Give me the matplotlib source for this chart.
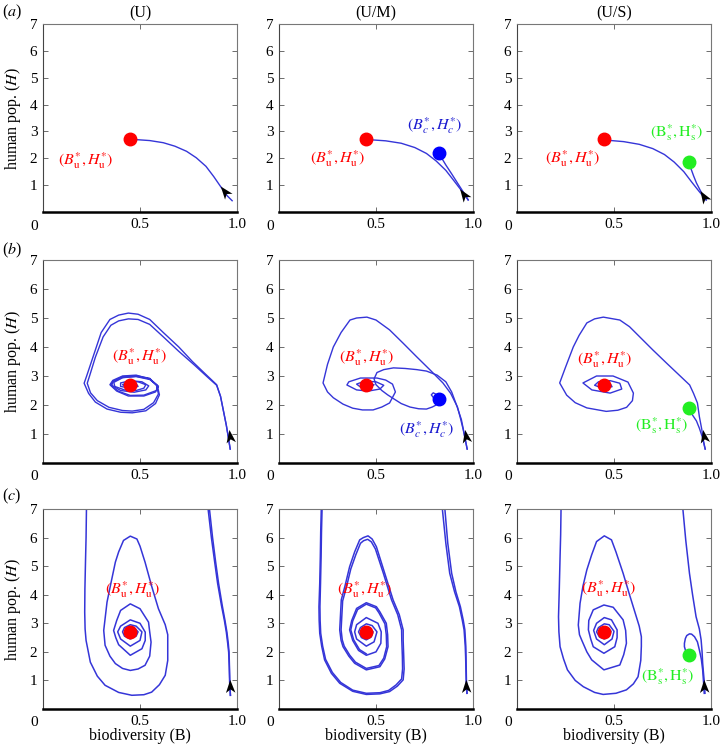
import matplotlib

matplotlib.use("Agg")

import matplotlib.pyplot as plt
import numpy as np
from matplotlib.markers import MarkerStyle
from matplotlib.path import Path
from matplotlib.transforms import Affine2D

plt.rcParams["font.family"] = ["Liberation Serif", "DejaVu Serif"]
plt.rcParams["mathtext.fontset"] = "stix"

col_titles = ["(U)", "(U/M)", "(U/S)"]
row_letters = ["a", "b", "c"]
x_ticks = [0.5, 1.0]
x_tick_labels = ["0.5", "1.0"]
y_ticks = [1, 2, 3, 4, 5, 6, 7]

# equilibria (B, H)
eq_u = (0.45, 2.70)
eq_c = (0.825, 2.19)
eq_s = (0.885, 1.88)

# ---- row (a) trajectories ----
a_u_path = [(0.975, 0.42), (0.95, 0.60), (0.92, 0.90), (0.88, 1.32), (0.84, 1.70), (0.79, 2.02),
             (0.74, 2.26), (0.68, 2.45), (0.62, 2.58), (0.55, 2.66), (0.47, 2.70)]
a_m_path_u = [(0.975, 0.45), (0.96, 0.60), (0.935, 0.85), (0.90, 1.18), (0.86, 1.55), (0.81, 1.90),
              (0.76, 2.18), (0.70, 2.40), (0.63, 2.56), (0.55, 2.65), (0.47, 2.69)]
a_m_path_c = [(0.975, 0.45), (0.965, 0.58), (0.945, 0.80), (0.92, 1.08), (0.89, 1.42), (0.86, 1.75),
              (0.835, 2.05)]
a_s_path_u = [(0.975, 0.45), (0.96, 0.58), (0.935, 0.80), (0.90, 1.12), (0.86, 1.50), (0.81, 1.86),
              (0.76, 2.14), (0.70, 2.36), (0.63, 2.52), (0.55, 2.62), (0.47, 2.67)]
a_s_path_s = [(0.975, 0.45), (0.96, 0.60), (0.945, 0.80), (0.925, 1.08), (0.91, 1.35), (0.895, 1.65),
              (0.887, 1.80)]

# ---- row (b) trajectories ----
b_u_path1 = [(0.965, 0.48), (0.955, 0.90), (0.945, 1.30), (0.93, 1.80), (0.915, 2.30), (0.895, 2.70),
             (0.84, 3.05), (0.77, 3.50), (0.70, 4.00), (0.62, 4.50), (0.55, 4.95), (0.49, 5.13),
             (0.44, 5.17), (0.39, 5.10), (0.345, 4.95), (0.30, 4.50), (0.26, 3.70), (0.225, 3.00),
             (0.212, 2.75), (0.235, 2.40), (0.27, 2.10), (0.33, 1.86), (0.40, 1.75), (0.46, 1.73),
             (0.53, 1.80), (0.58, 2.05), (0.60, 2.35), (0.59, 2.65), (0.55, 2.90), (0.48, 3.03),
             (0.41, 3.00), (0.36, 2.85), (0.345, 2.70), (0.38, 2.48), (0.44, 2.31), (0.52, 2.31),
             (0.58, 2.45), (0.595, 2.65), (0.55, 2.88), (0.48, 2.98), (0.41, 2.95), (0.36, 2.80),
             (0.355, 2.68), (0.40, 2.50), (0.47, 2.44), (0.53, 2.52), (0.545, 2.66), (0.51, 2.80),
             (0.45, 2.84), (0.40, 2.76), (0.40, 2.64), (0.45, 2.58), (0.49, 2.64), (0.48, 2.74),
             (0.45, 2.72)]
b_u_path2 = [(0.965, 0.48), (0.955, 0.90), (0.945, 1.30), (0.93, 1.80), (0.915, 2.30), (0.895, 2.68),
             (0.85, 2.95), (0.78, 3.38), (0.70, 3.85), (0.62, 4.35), (0.55, 4.78), (0.49, 4.95),
             (0.44, 4.97), (0.39, 4.90), (0.35, 4.75), (0.31, 4.35), (0.27, 3.65), (0.24, 3.00),
             (0.228, 2.75), (0.245, 2.42), (0.28, 2.15), (0.34, 1.92), (0.41, 1.81), (0.46, 1.79),
             (0.52, 1.85), (0.57, 2.08), (0.595, 2.38), (0.585, 2.68), (0.55, 2.92), (0.48, 3.01),
             (0.41, 2.98), (0.36, 2.82), (0.35, 2.68), (0.39, 2.47), (0.45, 2.33), (0.52, 2.34),
             (0.585, 2.50), (0.59, 2.68), (0.55, 2.90), (0.48, 2.99), (0.41, 2.94), (0.365, 2.78),
             (0.37, 2.64), (0.42, 2.52), (0.48, 2.50), (0.52, 2.58), (0.53, 2.70), (0.49, 2.80),
             (0.44, 2.80), (0.41, 2.70), (0.43, 2.62), (0.47, 2.64), (0.46, 2.72)]
b_m_path_u = [(0.97, 0.48), (0.96, 0.80), (0.95, 1.14), (0.935, 1.55), (0.92, 1.93), (0.885, 2.40),
              (0.845, 2.76), (0.78, 3.20), (0.71, 3.66), (0.64, 4.13), (0.57, 4.59), (0.50, 4.93),
              (0.453, 5.03), (0.40, 5.00), (0.366, 4.93), (0.32, 4.50), (0.28, 4.00), (0.25, 3.40),
              (0.227, 2.76), (0.25, 2.45), (0.28, 2.25), (0.33, 2.03), (0.38, 1.89), (0.43, 1.83),
              (0.485, 1.83), (0.53, 1.93), (0.57, 2.07), (0.60, 2.45), (0.585, 2.72), (0.55, 2.86),
              (0.505, 2.93), (0.42, 2.93), (0.36, 2.80), (0.35, 2.69), (0.40, 2.52), (0.46, 2.48),
              (0.52, 2.55), (0.54, 2.68), (0.50, 2.80), (0.44, 2.82), (0.40, 2.72), (0.42, 2.62),
              (0.47, 2.60), (0.49, 2.70), (0.45, 2.74), (0.44, 2.70)]
b_m_path_c = [(0.97, 0.48), (0.955, 1.00), (0.94, 1.50), (0.915, 2.00), (0.89, 2.45), (0.86, 2.80),
              (0.815, 3.03), (0.76, 3.17), (0.71, 3.22), (0.65, 3.26), (0.59, 3.28), (0.54, 3.22),
              (0.505, 3.12), (0.49, 2.90), (0.50, 2.70), (0.53, 2.50), (0.56, 2.35), (0.59, 2.22),
              (0.63, 2.05), (0.675, 1.93), (0.72, 1.87), (0.76, 1.86), (0.79, 1.93), (0.81, 2.00),
              (0.825, 2.17), (0.815, 2.35), (0.795, 2.42), (0.785, 2.35), (0.80, 2.22), (0.825, 2.19)]
b_s_path_u = [(0.97, 0.48), (0.96, 0.80), (0.953, 1.14), (0.94, 1.60), (0.93, 2.07), (0.91, 2.40),
              (0.89, 2.69), (0.83, 3.07), (0.77, 3.45), (0.70, 3.90), (0.634, 4.34), (0.58, 4.70),
              (0.53, 4.93), (0.445, 5.03), (0.40, 4.97), (0.36, 4.83), (0.32, 4.40), (0.29, 4.00),
              (0.25, 3.30), (0.22, 2.76), (0.256, 2.34), (0.30, 2.08), (0.36, 1.90), (0.46, 1.78),
              (0.52, 1.82), (0.565, 1.92), (0.595, 2.15), (0.60, 2.41), (0.572, 2.79), (0.495, 3.00),
              (0.41, 3.00), (0.34, 2.76), (0.386, 2.52), (0.48, 2.41), (0.54, 2.55), (0.53, 2.75),
              (0.48, 2.84), (0.42, 2.80), (0.40, 2.68), (0.44, 2.58), (0.49, 2.63), (0.48, 2.74),
              (0.45, 2.72)]
b_s_path_s = [(0.97, 0.48), (0.955, 0.90), (0.94, 1.20), (0.925, 1.45), (0.905, 1.65), (0.887, 1.86)]

# ---- row (c) trajectories ----
c_u_left = [(0.224, 7.0), (0.222, 6.0), (0.219, 5.14), (0.216, 4.2), (0.215, 3.39), (0.217, 2.8),
            (0.222, 2.4), (0.244, 1.64), (0.28, 1.15), (0.32, 0.83), (0.39, 0.58), (0.458, 0.48),
            (0.52, 0.50), (0.56, 0.59), (0.60, 0.85), (0.63, 1.18), (0.643, 1.70), (0.643, 2.23),
            (0.643, 2.60), (0.63, 2.95), (0.595, 3.51), (0.56, 4.30), (0.526, 5.14), (0.50, 5.70),
            (0.484, 5.95), (0.45, 6.05), (0.415, 5.90), (0.39, 5.50), (0.373, 5.14), (0.35, 4.40),
            (0.33, 3.74), (0.313, 2.75), (0.32, 2.23), (0.345, 1.85), (0.373, 1.59), (0.41, 1.42),
            (0.45, 1.35), (0.49, 1.40), (0.526, 1.53), (0.55, 1.85), (0.557, 2.34), (0.55, 2.70),
            (0.544, 3.04), (0.50, 3.51), (0.45, 3.68), (0.40, 3.45), (0.38, 3.10), (0.364, 2.75),
            (0.375, 2.50), (0.39, 2.25), (0.45, 1.88), (0.51, 2.11), (0.527, 2.40), (0.527, 2.69),
            (0.50, 3.00), (0.45, 3.12), (0.40, 2.90), (0.385, 2.70), (0.40, 2.45), (0.45, 2.20),
            (0.50, 2.40), (0.51, 2.70), (0.48, 2.90), (0.45, 2.95), (0.42, 2.85), (0.41, 2.70),
            (0.42, 2.55), (0.45, 2.45), (0.48, 2.55), (0.49, 2.70), (0.47, 2.85), (0.45, 2.88)]
c_u_right1 = [(0.851, 7.0), (0.868, 6.0), (0.885, 5.14), (0.90, 4.40), (0.92, 3.62), (0.935, 3.10),
              (0.945, 2.69), (0.952, 2.30), (0.957, 1.99), (0.960, 1.50), (0.962, 0.94), (0.966, 0.48)]
c_u_right2 = [(0.858, 7.0), (0.874, 6.0), (0.890, 5.14), (0.905, 4.40), (0.924, 3.62), (0.938, 3.10),
              (0.948, 2.69), (0.955, 2.30), (0.959, 1.99), (0.961, 1.50), (0.963, 0.94), (0.966, 0.48)]
c_m_left1 = [(0.218, 7.0), (0.215, 6.2), (0.213, 5.33), (0.21, 4.4), (0.206, 3.58), (0.207, 3.1),
             (0.21, 2.65), (0.22, 2.2), (0.235, 1.72), (0.27, 1.25), (0.313, 0.9), (0.38, 0.62),
             (0.45, 0.51), (0.52, 0.53), (0.57, 0.61), (0.61, 0.80), (0.64, 1.02), (0.645, 1.40),
             (0.643, 1.83), (0.64, 2.40), (0.64, 2.77), (0.62, 3.30), (0.588, 3.82), (0.545, 4.75),
             (0.502, 5.68), (0.48, 5.95), (0.459, 6.06), (0.435, 6.00), (0.416, 5.92), (0.39, 5.50),
             (0.364, 4.98), (0.34, 4.30), (0.321, 3.82), (0.313, 2.77), (0.32, 2.40), (0.33, 2.18),
             (0.36, 1.85), (0.39, 1.60), (0.45, 1.37), (0.52, 1.48), (0.545, 1.75), (0.562, 2.18),
             (0.56, 2.60), (0.553, 3.00), (0.52, 3.40), (0.502, 3.58), (0.45, 3.72), (0.40, 3.52),
             (0.375, 3.10), (0.364, 2.77), (0.38, 2.40), (0.41, 2.05), (0.45, 1.88), (0.50, 2.00),
             (0.525, 2.30), (0.527, 2.70), (0.51, 3.00), (0.45, 3.20), (0.40, 2.95), (0.39, 2.70),
             (0.40, 2.45), (0.45, 2.20), (0.49, 2.35), (0.505, 2.70), (0.48, 2.92), (0.45, 2.98),
             (0.42, 2.85), (0.41, 2.70), (0.425, 2.50), (0.45, 2.42), (0.475, 2.52), (0.485, 2.70),
             (0.465, 2.85), (0.45, 2.88)]
c_m_left2 = [(0.222, 7.0), (0.219, 6.2), (0.217, 5.33), (0.214, 4.4), (0.211, 3.58), (0.212, 3.1),
             (0.215, 2.65), (0.225, 2.2), (0.24, 1.74), (0.275, 1.28), (0.318, 0.93), (0.38, 0.66),
             (0.45, 0.55), (0.52, 0.57), (0.565, 0.65), (0.603, 0.84), (0.632, 1.05), (0.637, 1.40),
             (0.636, 1.83), (0.633, 2.40), (0.632, 2.77), (0.612, 3.30), (0.58, 3.82), (0.538, 4.75),
             (0.497, 5.60), (0.476, 5.85), (0.457, 5.94), (0.436, 5.89), (0.42, 5.80), (0.396, 5.40),
             (0.37, 4.90), (0.347, 4.25), (0.328, 3.78), (0.32, 2.77), (0.326, 2.42), (0.336, 2.20),
             (0.365, 1.88), (0.394, 1.64), (0.45, 1.42), (0.515, 1.52), (0.54, 1.78), (0.555, 2.18),
             (0.553, 2.60), (0.546, 2.98), (0.515, 3.37), (0.498, 3.54), (0.45, 3.67), (0.405, 3.48),
             (0.38, 3.08), (0.37, 2.77), (0.385, 2.42), (0.415, 2.08), (0.45, 1.93)]
c_m_right1 = [(0.842, 7.0), (0.86, 5.8), (0.88, 4.75), (0.905, 4.1), (0.93, 3.58), (0.945, 3.1),
              (0.954, 2.77), (0.96, 2.2), (0.962, 1.83), (0.965, 1.02), (0.969, 0.55)]
c_m_right2 = [(0.855, 7.0), (0.87, 5.8), (0.89, 4.75), (0.912, 4.1), (0.935, 3.58), (0.95, 3.1),
              (0.958, 2.77), (0.963, 2.2), (0.964, 1.83), (0.966, 1.02), (0.969, 0.55)]
c_s_left = [(0.227, 7.0), (0.225, 6.1), (0.222, 5.33), (0.218, 4.2), (0.214, 3.23), (0.216, 2.7),
            (0.222, 2.18), (0.24, 1.75), (0.26, 1.37), (0.30, 1.00), (0.342, 0.78), (0.40, 0.58),
            (0.444, 0.51), (0.51, 0.55), (0.564, 0.67), (0.60, 0.88), (0.624, 1.13), (0.638, 1.70),
            (0.641, 2.20), (0.641, 2.53), (0.63, 2.90), (0.615, 3.23), (0.58, 4.00), (0.547, 4.75),
            (0.51, 5.50), (0.487, 5.92), (0.45, 6.06), (0.41, 5.86), (0.385, 5.40), (0.36, 4.87),
            (0.34, 4.30), (0.325, 3.70), (0.316, 2.94), (0.322, 2.60), (0.333, 2.42), (0.36, 2.00),
            (0.385, 1.72), (0.448, 1.37), (0.53, 1.54), (0.55, 1.90), (0.564, 2.30), (0.56, 2.75),
            (0.547, 3.12), (0.496, 3.56), (0.448, 3.64), (0.393, 3.47), (0.37, 3.10), (0.368, 2.77),
            (0.38, 2.45), (0.393, 2.18), (0.448, 1.95), (0.504, 2.18), (0.516, 2.50), (0.516, 2.77),
            (0.487, 3.12), (0.45, 3.20), (0.41, 3.00), (0.395, 2.75), (0.41, 2.45), (0.45, 2.25),
            (0.49, 2.45), (0.50, 2.72), (0.475, 2.95), (0.45, 2.98), (0.42, 2.85), (0.41, 2.70),
            (0.425, 2.52), (0.45, 2.45), (0.475, 2.55), (0.485, 2.72), (0.465, 2.85), (0.45, 2.86)]
c_s_right = [(0.855, 7.0), (0.87, 5.9), (0.889, 4.75), (0.905, 4.0), (0.923, 3.23), (0.94, 2.80),
             (0.949, 2.42), (0.954, 2.00), (0.957, 1.60), (0.962, 1.20), (0.966, 0.90), (0.969, 0.55)]
c_s_green = [(0.965, 0.55), (0.962, 0.90), (0.957, 1.37), (0.95, 1.75), (0.94, 2.07), (0.93, 2.35),
             (0.915, 2.53), (0.90, 2.62), (0.889, 2.63), (0.875, 2.57), (0.868, 2.47), (0.863, 2.30),
             (0.863, 2.18), (0.87, 2.02), (0.88, 1.91)]

panel_paths = [
    [[a_u_path], [a_m_path_u, a_m_path_c], [a_s_path_u, a_s_path_s]],
    [[b_u_path1, b_u_path2], [b_m_path_u, b_m_path_c], [b_s_path_u, b_s_path_s]],
    [[c_u_left, c_u_right1, c_u_right2], [c_m_left1, c_m_left2, c_m_right1, c_m_right2],
     [c_s_left, c_s_right, c_s_green]],
]

# arrowhead position (B, H) and heading in degrees per panel
arrow_pos = [[(0.94, 0.76), (0.955, 0.62), (0.962, 0.56)],
             [(0.962, 0.88), (0.962, 0.88), (0.962, 0.88)],
             [(0.962, 0.78), (0.966, 0.78), (0.966, 0.78)]]
arrow_angle = [[128, 125, 122], [98, 100, 100], [92, 92, 92]]

# labels: (B, H) of text centre
u_label_pos = [[(0.22, 1.93), (0.30, 2.00), (0.286, 1.99)],
               [(0.50, 3.67), (0.45, 3.62), (0.45, 3.58)],
               [(0.46, 4.17), (0.44, 4.19), (0.47, 4.22)]]
c_label_pos = [(0.80, 3.21), (0.76, 1.15)]
s_label_pos = [(0.825, 2.95), (0.745, 1.29), (0.778, 1.13)]

u_label = r"$(B^{*}_{\mathrm{u}}, H^{*}_{\mathrm{u}})$"
c_label = r"$(B^{*}_{c}, H^{*}_{c})$"
s_label = r"$(\mathrm{B}^{*}_{\mathrm{s}}, \mathrm{H}^{*}_{\mathrm{s}})$"

RED = "#ff0000"
BLUE_DOT = "#0000ff"
GREEN = "#22ee22"
LINE = "#3535d8"

fig = plt.figure(figsize=(7.21, 7.44), dpi=100)
W, H = 721.0, 744.0
col_left = [43, 279, 517]
col_width = 194
row_span = [(24, 212), (260, 463), (509, 709)]

head = Path([(0, 1.0), (-0.62, -0.7), (0, -0.25), (0.62, -0.7), (0, 1.0)],
            [Path.MOVETO, Path.LINETO, Path.LINETO, Path.LINETO, Path.CLOSEPOLY])

for r in range(3):
    top, bot = row_span[r]
    for c in range(3):
        ax = fig.add_axes([col_left[c] / W, 1 - bot / H, col_width / W, (bot - top) / H])
        lw = 1.0 if r < 2 else 1.1
        for path in panel_paths[r][c]:
            pts = np.array(path)
            ax.plot(pts[:, 0], pts[:, 1], color=LINE, lw=lw, solid_joinstyle="round", zorder=2)

        ax.plot(*eq_u, "o", color=RED, ms=9, zorder=4)
        lx, ly = u_label_pos[r][c]
        ax.text(lx, ly, u_label, color=RED, fontsize=11.5, ha="center", va="center", zorder=5)
        if c == 1 and r < 2:
            ax.plot(*eq_c, "o", color=BLUE_DOT, ms=9, zorder=4)
            ax.text(*c_label_pos[r], c_label, color="#1a1ad0", fontsize=11.5, ha="center",
                    va="center", zorder=5)
        if c == 2:
            ax.plot(*eq_s, "o", color=GREEN, ms=9, zorder=4)
            ax.text(*s_label_pos[r], s_label, color=GREEN, fontsize=11.5, ha="center",
                    va="center", zorder=5)

        marker = MarkerStyle(head, transform=Affine2D().rotate_deg(arrow_angle[r][c] - 90))
        ax.plot(*arrow_pos[r][c], marker=marker, color="black", ms=11, mew=0, zorder=6)

        ax.set_xlim(0, 1.0)
        ax.set_ylim(0, 7)
        ax.set_xticks(x_ticks)
        ax.set_xticklabels(x_tick_labels)
        ax.set_yticks(y_ticks)
        ax.tick_params(direction="in", top=True, right=True, length=3.5, width=0.6,
                       labelsize=11, pad=4, color="#555555")
        ax.annotate("0", xy=(0, 0), xycoords="axes fraction", xytext=(-9, -7.5),
                    textcoords="offset pixels", ha="center", va="top", fontsize=11)
        for side in ("top", "right"):
            ax.spines[side].set_color("#777777")
            ax.spines[side].set_linewidth(0.8)
        ax.spines["left"].set_color("#444444")
        ax.spines["left"].set_linewidth(0.8)
        ax.spines["bottom"].set_color("black")
        ax.spines["bottom"].set_linewidth(1.8)

        if c == 0:
            ax.set_ylabel("human pop. ($H$)", fontsize=11.5)
            ax.yaxis.set_label_coords(-0.105, 0.5)
        if r == 2:
            ax.set_xlabel("biodiversity (B)", fontsize=11.5)
            ax.xaxis.set_label_coords(0.5, -0.097)
        if r == 0:
            ax.set_title(col_titles[c], fontsize=11.5, pad=5)

letter_y = [12, 250, 496]
for r in range(3):
    fig.text(12 / W, 1 - letter_y[r] / H, "($%s$)" % row_letters[r], fontsize=11.5,
             ha="center", va="center")

fig.savefig("out.png", dpi=100)
